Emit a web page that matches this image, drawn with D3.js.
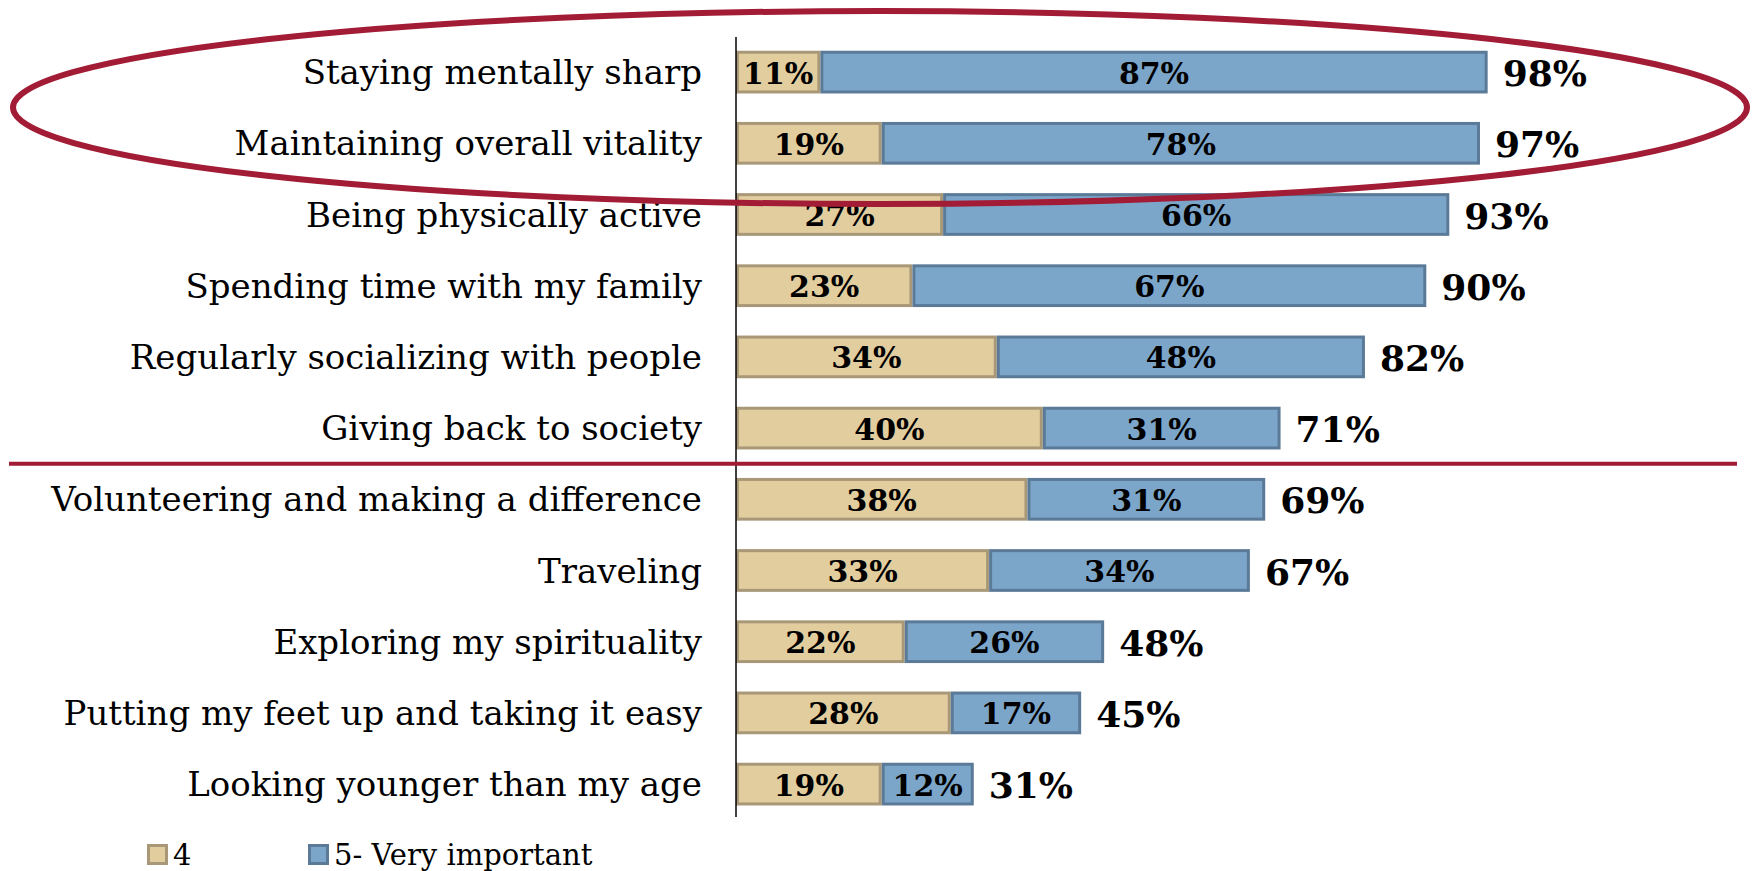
<!DOCTYPE html>
<html>
<head>
<meta charset="utf-8">
<script src="https://cdn.jsdelivr.net/npm/d3@7"></script>
<style>
  html, body { margin: 0; padding: 0; background: #fff; }
  svg { display: block; }
</style>
</head>
<body>
<svg id="chart" width="1752" height="871"></svg>
<script>
// Importance ratings (% of respondents) by activity
const categories = [
  "Staying mentally sharp",
  "Maintaining overall vitality",
  "Being physically active",
  "Spending time with my family",
  "Regularly socializing with people",
  "Giving back to society",
  "Volunteering and making a difference",
  "Traveling",
  "Exploring my spirituality",
  "Putting my feet up and taking it easy",
  "Looking younger than my age"
];
const rating4 = [11, 19, 27, 23, 34, 40, 38, 33, 22, 28, 19];
const rating5 = [87, 78, 66, 67, 48, 31, 31, 34, 26, 17, 12];
const seriesNames = ["4", "5- Very important"];

const colors = {
  tanFill: "#E2CD9F", tanStroke: "#A99878",
  blueFill: "#7BA6CA", blueStroke: "#5B7A98",
  accent: "#A21C35"
};

const svg = d3.select("#chart");
const serif = "'DejaVu Serif', serif";

const x = d3.scaleLinear().domain([0, 100]).range([736, 1503]);
const y = d3.scaleBand().domain(categories).range([36.5, 819.7])
  .paddingInner(0.4).paddingOuter(0.2);

const rows = categories.map((c, i) => ({
  cat: c, a: rating4[i], b: rating5[i], total: rating4[i] + rating5[i]
}));

// Category labels (right-aligned against the axis)
svg.append("g").selectAll("text").data(rows).join("text")
  .attr("x", 702)
  .attr("y", d => y(d.cat) + y.bandwidth() / 2)
  .attr("text-anchor", "end")
  .attr("dominant-baseline", "central")
  .attr("font-family", serif)
  .attr("font-size", 34)
  .attr("fill", "#000")
  .text(d => d.cat);

const bars = svg.append("g");
const sw = 3;

// "4" segment
bars.selectAll("rect.r4").data(rows).join("rect")
  .attr("class", "r4")
  .attr("x", x(0) + sw / 2)
  .attr("y", d => y(d.cat) + sw / 2)
  .attr("width", d => x(d.a) - x(0) - sw)
  .attr("height", y.bandwidth() - sw)
  .attr("fill", colors.tanFill)
  .attr("stroke", colors.tanStroke)
  .attr("stroke-width", sw);

// "5- Very important" segment
bars.selectAll("rect.r5").data(rows).join("rect")
  .attr("class", "r5")
  .attr("x", d => x(d.a) + sw / 2)
  .attr("y", d => y(d.cat) + sw / 2)
  .attr("width", d => x(d.a + d.b) - x(d.a) - sw)
  .attr("height", y.bandwidth() - sw)
  .attr("fill", colors.blueFill)
  .attr("stroke", colors.blueStroke)
  .attr("stroke-width", sw);

// Segment value labels
const inner = svg.append("g")
  .attr("font-family", serif).attr("font-weight", "bold")
  .attr("font-size", 30).attr("text-anchor", "middle")
  .attr("dominant-baseline", "central");
inner.selectAll("text.l4").data(rows).join("text")
  .attr("x", d => (x(0) + x(d.a)) / 2)
  .attr("y", d => y(d.cat) + y.bandwidth() / 2 + 1)
  .text(d => d.a + "%");
inner.selectAll("text.l5").data(rows).join("text")
  .attr("x", d => (x(d.a) + x(d.a + d.b)) / 2)
  .attr("y", d => y(d.cat) + y.bandwidth() / 2 + 1)
  .text(d => d.b + "%");

// Totals to the right of each bar
svg.append("g").selectAll("text").data(rows).join("text")
  .attr("x", d => x(d.total) + 15)
  .attr("y", d => y(d.cat) + y.bandwidth() / 2 + 1)
  .attr("dominant-baseline", "central")
  .attr("font-family", serif).attr("font-weight", "bold")
  .attr("font-size", 36)
  .text(d => d.total + "%");

// Vertical axis line
svg.append("line")
  .attr("x1", x(0)).attr("x2", x(0))
  .attr("y1", 37).attr("y2", 817)
  .attr("stroke", "#000").attr("stroke-width", 1.5);

// Divider between the top six and the rest
const sepY = y(categories[6]) - y.step() * y.paddingInner() / 2;
svg.append("line")
  .attr("x1", 9).attr("x2", 1737)
  .attr("y1", sepY).attr("y2", sepY)
  .attr("stroke", colors.accent).attr("stroke-width", 4);

// Highlight ellipse around the top two items
svg.append("ellipse")
  .attr("cx", 880).attr("cy", 107.5)
  .attr("rx", 867).attr("ry", 96.5)
  .attr("fill", "none")
  .attr("stroke", colors.accent).attr("stroke-width", 6);

// Legend
const legend = svg.append("g").attr("font-family", serif).attr("font-size", 29);
const legendItems = [
  { name: seriesNames[0], x: 147, fill: colors.tanFill, stroke: colors.tanStroke },
  { name: seriesNames[1], x: 308, fill: colors.blueFill, stroke: colors.blueStroke }
];
legendItems.forEach(it => {
  legend.append("rect")
    .attr("x", it.x + 1.5).attr("y", 845.5)
    .attr("width", 18).attr("height", 18)
    .attr("fill", it.fill).attr("stroke", it.stroke).attr("stroke-width", 3);
  legend.append("text")
    .attr("x", it.x + 26).attr("y", 855)
    .attr("dominant-baseline", "central")
    .text(it.name);
});
</script>
</body>
</html>
